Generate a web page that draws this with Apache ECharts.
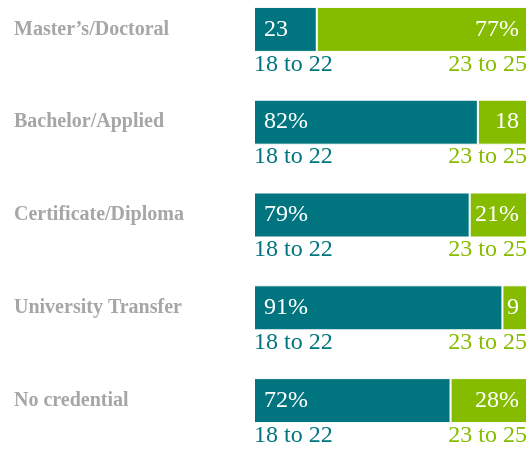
<!DOCTYPE html>
<html>
<head>
<meta charset="utf-8">
<script src="https://cdn.jsdelivr.net/npm/echarts@6/dist/echarts.min.js"></script>
<style>
html, body { margin: 0; padding: 0; background: #fff; }
#main { width: 529px; height: 449px; }
</style>
</head>
<body>
<div id="main"></div>
<script>
// 数据
var categories = ['Master\u2019s/Doctoral', 'Bachelor/Applied', 'Certificate/Diploma', 'University Transfer', 'No credential'];
var young = [23, 82, 79, 91, 72];      // 18 to 22
var older = [77, 18, 21, 9, 28];       // 23 to 25
var youngLabels = ['23', '82%', '79%', '91%', '72%'];
var olderLabels = ['77%', '18', '21%', '9', '28%'];
var youngName = '18 to 22';
var olderName = '23 to 25';

var teal = '#007580';
var green = '#86bc00';
var serif = '"Liberation Serif", "DejaVu Serif", serif';

var chart = echarts.init(document.getElementById('main'));

chart.setOption({
	animation: false,
	grid: { left: 254, right: 2, top: -17, height: 464, outerBoundsMode: 'none', containLabel: false },
	xAxis: { type: 'value', min: 0, max: 100, show: false },
	yAxis: {
		type: 'category',
		inverse: true,
		data: categories,
		axisLine: { show: false },
		axisTick: { show: false },
		axisLabel: {
			align: 'left',
			margin: 240,
			color: '#a6a6a6',
			fontFamily: serif,
			fontWeight: 'bold',
			fontSize: 20
		}
	},
	series: [{
		name: youngName,
		type: 'bar',
		stack: 'all',
		barWidth: 45,
		data: young,
		itemStyle: { color: teal, borderColor: '#fff', borderWidth: 1 },
		label: {
			show: true,
			position: 'insideLeft',
			distance: 10,
			color: '#fff',
			fontFamily: serif,
			fontSize: 24,
			formatter: function(p) { return youngLabels[p.dataIndex]; }
		}
	}, {
		name: olderName,
		type: 'bar',
		stack: 'all',
		barWidth: 45,
		data: older,
		itemStyle: { color: green, borderColor: '#fff', borderWidth: 1 },
		label: {
			show: true,
			position: 'insideRight',
			distance: 8,
			color: '#fff',
			fontFamily: serif,
			fontSize: 24,
			formatter: function(p) { return olderLabels[p.dataIndex]; }
		}
	}]
});

// 条形下方的年龄段标注
var texts = [];
var x0 = chart.convertToPixel({ xAxisIndex: 0 }, 0);
var x1 = chart.convertToPixel({ xAxisIndex: 0 }, 100);
for (var i = 0; i < categories.length; i++) {
	var y = chart.convertToPixel({ yAxisIndex: 0 }, i) + 23;
	texts.push({
		type: 'text', left: x0, top: y,
		style: { text: youngName, fill: teal, font: '24px ' + serif }
	});
	texts.push({
		type: 'text', right: 529 - x1, top: y,
		style: { text: olderName, fill: green, font: '24px ' + serif }
	});
}
chart.setOption({ graphic: texts });
</script>
</body>
</html>
